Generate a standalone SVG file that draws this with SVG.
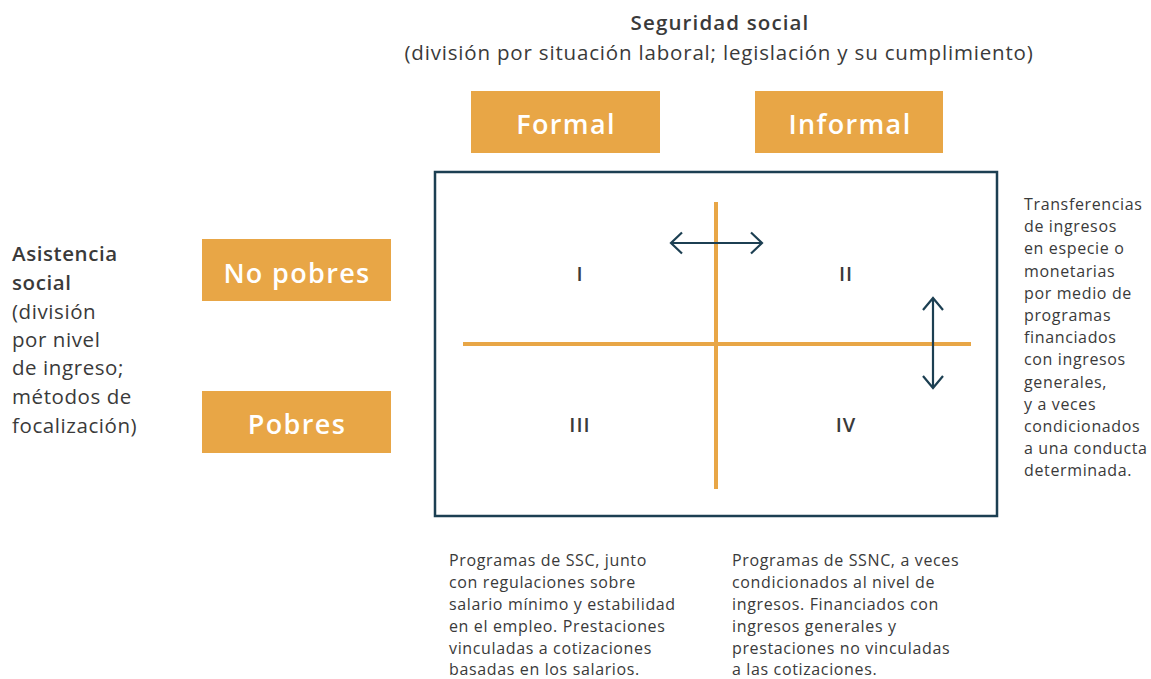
<svg xmlns="http://www.w3.org/2000/svg" width="1151" height="679" viewBox="0 0 1151 679">
<style>
text{font-family:"Open Sans","Liberation Sans",sans-serif;fill:#3a3a3a;letter-spacing:0.04em}
.t{font-size:20.5px}
.b{font-weight:600}
.tb{letter-spacing:0.055em}
.lf{letter-spacing:0.028em}
.lbl{font-size:27px;font-weight:600;fill:#ffffff;text-anchor:middle;letter-spacing:0.05em}
.box{fill:#E8A646}
.q{font-size:20px;font-weight:600;text-anchor:middle;fill:#3a3a3a;letter-spacing:0.05em}
.s{font-size:16px}
.ax{stroke:#E8A646;stroke-width:4;fill:none}
.ar{stroke:#1C3F52;stroke-width:2.2;fill:none}
</style>
<g id="title">
<text class="t b tb" x="720" y="30" text-anchor="middle">Seguridad social</text>
<text class="t" x="719" y="60" text-anchor="middle">(división por situación laboral; legislación y su cumplimiento)</text>
</g>
<g id="formal"><rect class="box" x="471" y="91" width="189" height="62"/><text class="lbl" x="566" y="134">Formal</text></g>
<g id="informal"><rect class="box" x="755" y="91" width="188" height="62"/><text class="lbl" x="850" y="134">Informal</text></g>
<g id="nopobres"><rect class="box" x="202" y="239" width="189" height="62"/><text class="lbl" x="297" y="283">No pobres</text></g>
<g id="pobres"><rect class="box" x="202" y="391" width="189" height="62"/><text class="lbl" x="297" y="434">Pobres</text></g>
<g id="asistencia">
<text class="t lf" x="12">
<tspan class="b" x="12" y="261">Asistencia</tspan>
<tspan class="b" x="12" y="290">social</tspan>
<tspan x="12" y="319">(división</tspan>
<tspan x="12" y="347">por nivel</tspan>
<tspan x="12" y="375">de ingreso;</tspan>
<tspan x="12" y="404">métodos de</tspan>
<tspan x="12" y="433">focalización)</tspan>
</text>
</g>
<g id="matrix">
<rect x="435" y="172" width="562" height="344" fill="none" stroke="#1C3F52" stroke-width="2.5"/>
<text class="q" x="580" y="281">I</text>
<text class="q" x="846" y="281">II</text>
<text class="q" x="580" y="432">III</text>
<text class="q" x="846" y="432">IV</text>
</g>
<g id="connectors">
<line class="ax" x1="716" y1="202" x2="716" y2="489"/>
<line class="ax" x1="463" y1="344" x2="971" y2="344"/>
<path class="ar" d="M671 243H762M682 232.5L671 243L682 253.5M751 232.5L762 243L751 253.5"/>
<path class="ar" d="M933 298V388M923 310L933 298L943 310M923 376L933 388L943 376"/>
</g>
<g id="transferencias">
<text class="s">
<tspan x="1024" y="210">Transferencias</tspan>
<tspan x="1024" y="232.2">de ingresos</tspan>
<tspan x="1024" y="254.4">en especie o</tspan>
<tspan x="1024" y="276.6">monetarias</tspan>
<tspan x="1024" y="298.8">por medio de</tspan>
<tspan x="1024" y="321">programas</tspan>
<tspan x="1024" y="343.2">financiados</tspan>
<tspan x="1024" y="365.4">con ingresos</tspan>
<tspan x="1024" y="387.6">generales,</tspan>
<tspan x="1024" y="409.8">y a veces</tspan>
<tspan x="1024" y="432">condicionados</tspan>
<tspan x="1024" y="454.2">a una conducta</tspan>
<tspan x="1024" y="476.4">determinada.</tspan>
</text>
</g>
<g id="ssc">
<text class="s">
<tspan x="449" y="566">Programas de SSC, junto</tspan>
<tspan x="449" y="588">con regulaciones sobre</tspan>
<tspan x="449" y="610">salario mínimo y estabilidad</tspan>
<tspan x="449" y="632">en el empleo. Prestaciones</tspan>
<tspan x="449" y="654">vinculadas a cotizaciones</tspan>
<tspan x="449" y="675">basadas en los salarios.</tspan>
</text>
</g>
<g id="ssnc">
<text class="s">
<tspan x="732" y="566">Programas de SSNC, a veces</tspan>
<tspan x="732" y="588">condicionados al nivel de</tspan>
<tspan x="732" y="610">ingresos. Financiados con</tspan>
<tspan x="732" y="632">ingresos generales y</tspan>
<tspan x="732" y="654">prestaciones no vinculadas</tspan>
<tspan x="732" y="675">a las cotizaciones.</tspan>
</text>
</g>
</svg>
